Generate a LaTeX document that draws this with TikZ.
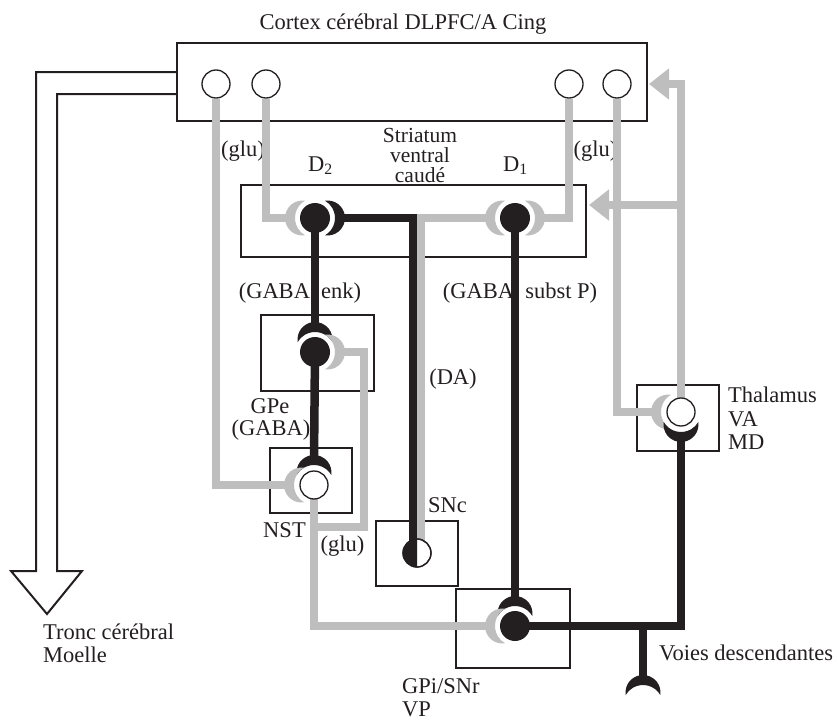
\documentclass[tikz,border=0pt]{standalone}
\usepackage{fontspec}
\setmainfont{Liberation Serif}
\usetikzlibrary{arrows.meta}
\definecolor{gry}{HTML}{BEBEBE}
\definecolor{blk}{HTML}{231F20}
\tikzset{
  term/.pic={\fill[fill=#1] (120:20pt) arc[start angle=120,end angle=240,radius=20pt]
     arc[start angle=-81.8,end angle=-278.2,radius=17.5pt] -- cycle;},
  term/.default=blk,
  box/.style={draw=blk, line width=1.2pt, rectangle, inner sep=0pt},
  gline/.style={draw=gry, line width=7.5pt},
  bline/.style={draw=blk, line width=8.5pt},
  wcirc/.style={circle, draw=blk, line width=1.3pt, fill=white, minimum size=28pt, inner sep=0pt},
  bcirc/.style={circle, fill=blk, minimum size=30pt, inner sep=0pt},
  lbl/.style={font=\fontsize{22.5}{25}\selectfont, inner sep=0pt, text=blk},
  garrow/.style={gline, -{Triangle[length=20pt,width=30pt]}},
}
\begin{document}
\begin{tikzpicture}[x=1pt,y=1pt]
\useasboundingbox (0,0) rectangle (839,-720);

% boxes
\node[box, minimum width=470pt, minimum height=78pt] (cortex) at (412,-82) {};
\node[box, minimum width=345pt, minimum height=72pt] (striatum) at (413.5,-221) {};
\node[box, minimum width=113pt, minimum height=76pt] (gpebox) at (317.5,-353) {};
\node[box, minimum width=82pt, minimum height=65pt] (nstbox) at (311,-480.5) {};
\node[box, minimum width=82pt, minimum height=65pt] (sncbox) at (417,-553.5) {};
\node[box, minimum width=114pt, minimum height=79pt] (gpibox) at (513,-628.5) {};
\node[box, minimum width=82pt, minimum height=66pt] (thbox) at (678,-418) {};

% labels
\node[lbl, anchor=base] (title) at (403,-29) {Cortex cérébral DLPFC/A Cing};
\node[lbl, anchor=base] (glu1) at (243,-156) {(glu)};
\node[lbl, anchor=base] (glu2) at (595.5,-156) {(glu)};
\node[lbl, anchor=base west] (dtwo) at (308,-171) {D\textsubscript{2}};
\node[lbl, anchor=base west] (done) at (503,-171) {D\textsubscript{1}};
\node[lbl, anchor=north, align=center, font=\fontsize{21.5}{20}\selectfont] (stri) at (420,-128)
  {Striatum\\ventral\\caudé};
\node[lbl, anchor=base] (genk) at (300,-298) {(GABA \ enk)};
\node[lbl, anchor=base] (gsub) at (520,-298) {(GABA \ subst P)};
\node[lbl, anchor=base] (da) at (453,-384) {(DA)};
\node[lbl, anchor=base] (gpel) at (270,-413) {GPe};
\node[lbl, anchor=base] (gpeg) at (271,-435) {(GABA)};
\node[lbl, anchor=base] (nstl) at (284.5,-537) {NST};
\node[lbl, anchor=base] (glu3) at (342.5,-551) {(glu)};
\node[lbl, anchor=base] (sncl) at (447.5,-512) {SNc};
\node[lbl, anchor=base west] (th1) at (728,-402) {Thalamus};
\node[lbl, anchor=base west] (th2) at (728,-426) {VA};
\node[lbl, anchor=base west] (th3) at (728,-449) {MD};
\node[lbl, anchor=base west] (voies) at (659,-660) {Voies descendantes};
\node[lbl, anchor=base west] (gpil1) at (402,-693) {GPi/SNr};
\node[lbl, anchor=base west] (gpil2) at (402,-716) {VP};
\node[lbl, anchor=base west] (tr1) at (43,-639) {Tronc cérébral};
\node[lbl, anchor=base west] (tr2) at (43,-662) {Moelle};

% big hollow arrow
\coordinate (bigA) at (177,-72);
\coordinate (bigB) at (177,-94);
\draw[draw=blk, line width=2pt, line join=miter] (bigA) -- (36,-72) -- (36,-571) -- (11,-571)
  -- (47,-614) -- (82,-571) -- (57,-571) -- (57,-94) -- (bigB);

% neuron centres
\node[wcirc] (c1) at (216,-84) {};
\node[wcirc] (c2) at (266,-84) {};
\node[wcirc] (c3) at (569,-84) {};
\node[wcirc] (c4) at (617,-84) {};
\coordinate (d2) at (315,-218);
\coordinate (d1) at (515,-218);
\coordinate (gpe) at (315,-352);
\coordinate (nst) at (314,-485);
\coordinate (snc) at (417,-553);
\coordinate (gpi) at (515,-626);
\coordinate (th) at (681,-412);

% terminal end points
\coordinate (d2L) at (290,-218);
\coordinate (d2R) at (340,-218);
\coordinate (d1L) at (490,-218);
\coordinate (d1R) at (540,-218);
\coordinate (gpeT) at (315,-327);
\coordinate (gpeR) at (340,-352);
\coordinate (nstT) at (314,-460);
\coordinate (nstL) at (289,-485);
\coordinate (gpiT) at (515,-601);
\coordinate (gpiL) at (490,-626);
\coordinate (thL) at (656,-412);
\coordinate (thB) at (681,-437);
\coordinate (sncB) at (413,-550);
\coordinate (sncG) at (421,-550);
\coordinate (nstbr) at (314,-527);
\coordinate (loopc) at (364,-527);
\coordinate (tj) at (643,-626);
\coordinate (voieE) at (643,-680);
\coordinate (voieC) at (643,-705);
\coordinate (cxarr) at (649,-84);
\coordinate (thbr) at (681,-205);
\coordinate (starr) at (589,-205);

% gray connectors
\draw[gline] (c1) |- (nstL);
\draw[gline] (c2) |- (d2L);
\draw[gline] (c3) |- (d1R);
\draw[gline] (c4) |- (thL);
\draw[gline] (d1L) -| (sncG);
\draw[gline] (nst) |- (gpiL);
\draw[gline] (nstbr) -- (loopc) |- (gpeR);
\draw[garrow] (th) |- (cxarr);
\draw[garrow] (thbr) -- (starr);

% black connectors
\draw[bline] (d2R) -| (sncB);
\draw[bline] (d2) -- (gpeT);
\draw[bline] (gpe) -- (nstT);
\draw[bline] (d1) -- (gpiT);
\draw[bline] (gpi) -| (thB);
\draw[bline] (tj) -- (voieE);

% terminals
\pic[rotate=0] at (d2) {term=gry};
\pic[rotate=180] at (d2) {term=blk};
\pic[rotate=0] at (d1) {term=gry};
\pic[rotate=180] at (d1) {term=gry};
\pic[rotate=-90] at (gpe) {term=blk};
\pic[rotate=180] at (gpe) {term=gry};
\pic[rotate=-90] at (nst) {term=blk};
\pic[rotate=0] at (nst) {term=gry};
\pic[rotate=-90] at (gpi) {term=blk};
\pic[rotate=0] at (gpi) {term=gry};
\pic[rotate=0] at (th) {term=gry};
\pic[rotate=90] at (th) {term=blk};
\pic[rotate=-90] at (voieC) {term=blk};

% cell bodies
\node[bcirc] (nd2) at (d2) {};
\node[bcirc] (nd1) at (d1) {};
\node[bcirc] (ngpe) at (gpe) {};
\node[bcirc] (ngpi) at (gpi) {};
\node[wcirc] (nnst) at (nst) {};
\node[wcirc] (nth) at (th) {};
\node[wcirc] (nsnc) at (snc) {};
\fill[blk] (snc) ++(0,14) arc[start angle=90,end angle=270,radius=14pt] -- cycle;
\draw[blk, line width=1.3pt] (snc) circle[radius=14pt];
\end{tikzpicture}
\end{document}
